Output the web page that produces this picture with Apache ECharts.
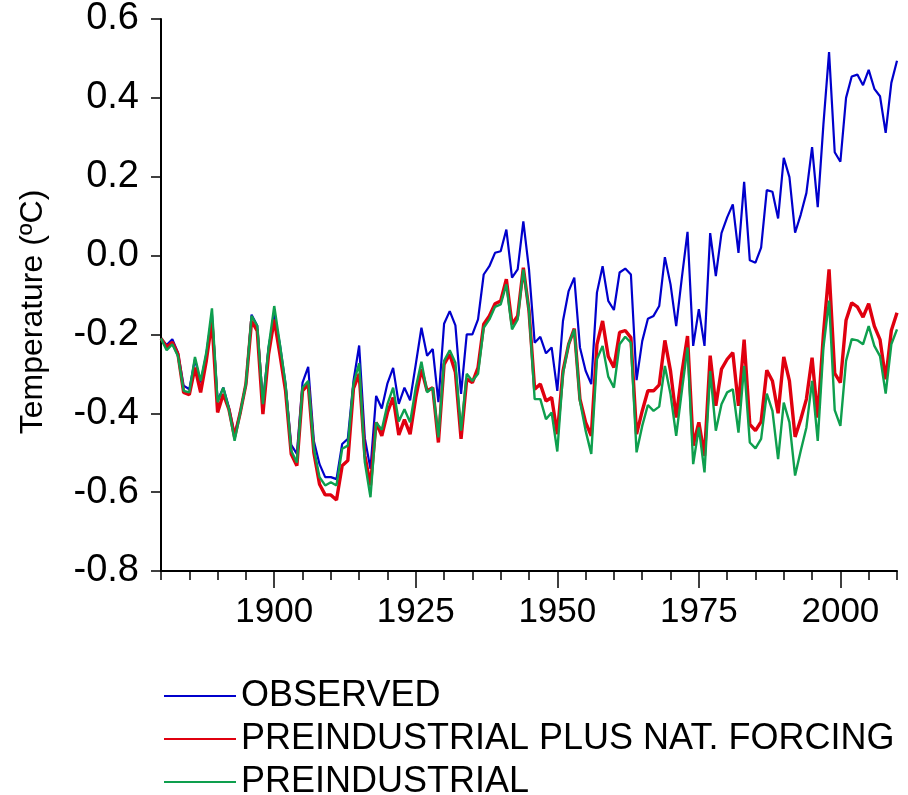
<!DOCTYPE html>
<html>
<head>
<meta charset="utf-8">
<script src="https://cdn.jsdelivr.net/npm/echarts@6/dist/echarts.min.js"></script>
<style>
html,body{margin:0;padding:0;background:#fff;}
#chart{width:908px;height:795px;}
</style>
</head>
<body>
<div id="chart"></div>
<script>
const firstYear = 1880;
const lastYear = 2010;
const years = Array.from({length: lastYear - firstYear + 1}, (_, i) => firstYear + i);

const observed = [
-0.210,-0.227,-0.212,-0.246,-0.330,-0.339,-0.263,-0.322,-0.250,-0.149,
-0.368,-0.335,-0.385,-0.453,-0.398,-0.326,-0.150,-0.178,-0.372,-0.233,
-0.149,-0.225,-0.326,-0.480,-0.503,-0.322,-0.282,-0.470,-0.529,-0.562,
-0.562,-0.567,-0.478,-0.465,-0.318,-0.228,-0.463,-0.541,-0.356,-0.388,
-0.324,-0.285,-0.376,-0.335,-0.367,-0.276,-0.183,-0.254,-0.237,-0.372,
-0.173,-0.141,-0.177,-0.351,-0.200,-0.200,-0.162,-0.048,-0.027,0.007,
0.011,0.066,-0.056,-0.035,0.087,-0.035,-0.221,-0.206,-0.248,-0.233,
-0.343,-0.166,-0.090,-0.056,-0.233,-0.292,-0.326,-0.094,-0.027,-0.115,
-0.138,-0.043,-0.033,-0.048,-0.316,-0.217,-0.160,-0.153,-0.128,-0.004,
-0.073,-0.179,-0.056,0.060,-0.229,-0.136,-0.229,0.057,-0.052,0.057,
0.097,0.130,0.007,0.187,-0.012,-0.018,0.020,0.166,0.162,0.094,
0.248,0.199,0.058,0.104,0.159,0.275,0.123,0.332,0.516,0.262,
0.238,0.400,0.454,0.459,0.432,0.471,0.423,0.404,0.311,0.438,
0.494
];

const natForcing = [
-0.210,-0.232,-0.220,-0.250,-0.347,-0.353,-0.284,-0.347,-0.267,-0.166,
-0.398,-0.351,-0.390,-0.460,-0.398,-0.326,-0.166,-0.191,-0.402,-0.250,
-0.162,-0.250,-0.343,-0.503,-0.533,-0.343,-0.326,-0.500,-0.580,-0.607,
-0.607,-0.620,-0.533,-0.520,-0.337,-0.300,-0.507,-0.583,-0.423,-0.457,
-0.398,-0.360,-0.455,-0.416,-0.453,-0.360,-0.288,-0.343,-0.335,-0.474,
-0.276,-0.250,-0.296,-0.465,-0.313,-0.322,-0.284,-0.174,-0.153,-0.122,
-0.115,-0.060,-0.174,-0.153,-0.031,-0.140,-0.339,-0.326,-0.369,-0.360,
-0.453,-0.293,-0.225,-0.185,-0.364,-0.423,-0.457,-0.225,-0.166,-0.256,
-0.284,-0.195,-0.190,-0.208,-0.453,-0.394,-0.343,-0.343,-0.328,-0.215,
-0.293,-0.411,-0.297,-0.204,-0.482,-0.423,-0.508,-0.254,-0.381,-0.288,
-0.263,-0.246,-0.381,-0.213,-0.428,-0.444,-0.421,-0.291,-0.318,-0.400,
-0.257,-0.318,-0.460,-0.415,-0.364,-0.259,-0.411,-0.200,-0.035,-0.299,
-0.322,-0.164,-0.120,-0.130,-0.156,-0.122,-0.179,-0.213,-0.314,-0.190,
-0.145
];

const preindustrial = [
-0.210,-0.240,-0.225,-0.255,-0.343,-0.347,-0.257,-0.318,-0.246,-0.134,
-0.372,-0.335,-0.390,-0.470,-0.398,-0.326,-0.153,-0.178,-0.377,-0.233,
-0.128,-0.225,-0.326,-0.495,-0.525,-0.335,-0.318,-0.490,-0.562,-0.583,
-0.575,-0.583,-0.490,-0.482,-0.325,-0.273,-0.524,-0.613,-0.423,-0.442,
-0.377,-0.335,-0.421,-0.390,-0.423,-0.335,-0.269,-0.347,-0.335,-0.461,
-0.267,-0.240,-0.272,-0.444,-0.300,-0.318,-0.300,-0.183,-0.162,-0.130,
-0.124,-0.073,-0.187,-0.162,-0.035,-0.140,-0.364,-0.364,-0.415,-0.398,
-0.497,-0.300,-0.225,-0.187,-0.369,-0.444,-0.503,-0.263,-0.229,-0.307,
-0.335,-0.225,-0.206,-0.221,-0.499,-0.432,-0.379,-0.394,-0.383,-0.280,
-0.352,-0.457,-0.343,-0.233,-0.529,-0.436,-0.550,-0.293,-0.444,-0.377,
-0.347,-0.339,-0.449,-0.280,-0.474,-0.489,-0.465,-0.350,-0.394,-0.516,
-0.373,-0.423,-0.558,-0.495,-0.436,-0.318,-0.470,-0.234,-0.114,-0.392,
-0.432,-0.267,-0.212,-0.215,-0.225,-0.179,-0.229,-0.255,-0.350,-0.225,
-0.187
];

const seriesNames = ['OBSERVED', 'PREINDUSTRIAL PLUS NAT. FORCING', 'PREINDUSTRIAL'];
const xMajorTicks = [1900, 1925, 1950, 1975, 2000];
const yTicks = [-0.8, -0.6, -0.4, -0.2, 0.0, 0.2, 0.4, 0.6];
const yAxisTitle = 'Temperature (ºC)';

const FONT = '"Liberation Sans", Arial, Helvetica, sans-serif';
const pair = arr => years.map((y, i) => [y, arr[i]]);

const chart = echarts.init(document.getElementById('chart'), null, {renderer: 'canvas'});
chart.setOption({
  animation: false,
  backgroundColor: '#ffffff',
  grid: {left: 161, right: 11, top: 19, bottom: 224, containLabel: false},
  legend: {
    orient: 'vertical',
    left: 158,
    top: 673,
    height: 200,
    itemWidth: 72,
    itemHeight: 14,
    itemGap: 7,
    itemStyle: {opacity: 0},
    textStyle: {fontFamily: FONT, fontSize: 36, color: '#000'},
    data: seriesNames
  },
  xAxis: [
    {
      type: 'value', min: firstYear, max: lastYear, interval: 5,
      axisLine: {show: true, onZero: false, lineStyle: {color: '#000', width: 2}},
      axisTick: {show: true, length: 9, lineStyle: {color: '#000', width: 1.5}},
      axisLabel: {show: false},
      splitLine: {show: false}
    },
    {
      type: 'value', min: firstYear, max: lastYear, position: 'bottom',
      axisLine: {show: false, onZero: false},
      axisTick: {show: true, length: 17, customValues: xMajorTicks, lineStyle: {color: '#000', width: 1.5}},
      axisLabel: {show: true, customValues: xMajorTicks, margin: 24, fontFamily: FONT, fontSize: 35, color: '#000',
        formatter: v => String(v)},
      splitLine: {show: false}
    }
  ],
  yAxis: {
    type: 'value', min: -0.8, max: 0.6, interval: 0.2,
    name: yAxisTitle, nameLocation: 'middle', nameRotate: 90, nameGap: 112,
    nameTextStyle: {fontFamily: FONT, fontSize: 32, color: '#000', padding: [0, 34, 0, 0]},
    axisLine: {show: true, onZero: false, lineStyle: {color: '#000', width: 2}},
    axisTick: {show: true, length: 10, lineStyle: {color: '#000', width: 1.5}},
    axisLabel: {
      margin: 22, fontFamily: FONT, fontSize: 38, color: '#000',
      customValues: yTicks,
      formatter: v => v.toFixed(1)
    },
    splitLine: {show: false}
  },
  series: [
    {name: seriesNames[0], type: 'line', data: pair(observed), symbol: 'none', color: '#0000CC', lineStyle: {width: 2.2, color: '#0000CC'}, z: 2},
    {name: seriesNames[1], type: 'line', data: pair(natForcing), symbol: 'none', color: '#E0000F', lineStyle: {width: 3.4, color: '#E0000F'}, z: 3},
    {name: seriesNames[2], type: 'line', data: pair(preindustrial), symbol: 'none', color: '#0E9F4E', lineStyle: {width: 2.4, color: '#0E9F4E'}, z: 4}
  ]
});
</script>
</body>
</html>
